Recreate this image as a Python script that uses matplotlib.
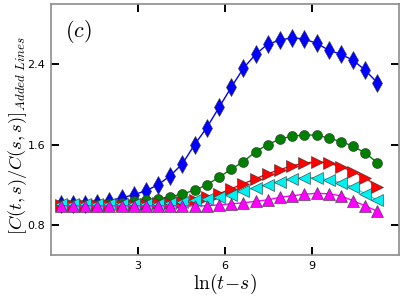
import matplotlib
matplotlib.use("Agg")
import matplotlib.pyplot as plt

plt.rcParams['mathtext.fontset'] = 'cm'

x = [0.33, 0.75, 1.17, 1.59, 2.01, 2.43, 2.85, 3.27, 3.69, 4.11, 4.53, 4.95, 5.37,
     5.79, 6.21, 6.63, 7.05, 7.47, 7.89, 8.31, 8.73, 9.15, 9.57, 9.99, 10.41, 10.83, 11.25]

blue = [1.01, 1.01, 1.01, 1.02, 1.04, 1.07, 1.10, 1.14, 1.20, 1.29, 1.41, 1.60, 1.77,
        1.97, 2.17, 2.36, 2.50, 2.60, 2.64, 2.665, 2.65, 2.61, 2.54, 2.50, 2.44, 2.34, 2.215]
green = [1.0, 1.0, 1.0, 1.0, 1.01, 1.02, 1.04, 1.05, 1.06, 1.08, 1.11, 1.145, 1.20,
         1.275, 1.355, 1.43, 1.53, 1.60, 1.655, 1.685, 1.695, 1.695, 1.665, 1.63, 1.585, 1.515, 1.42]
red = [1.0, 1.0, 1.0, 1.0, 1.0, 1.0, 1.0, 1.01, 1.015, 1.02, 1.03, 1.05, 1.075,
       1.11, 1.16, 1.21, 1.26, 1.31, 1.35, 1.39, 1.415, 1.43, 1.415, 1.38, 1.33, 1.27, 1.18]
cyan = [1.01, 1.01, 1.01, 1.01, 1.01, 1.01, 1.01, 1.01, 1.01, 1.02, 1.03, 1.045, 1.06,
        1.08, 1.10, 1.14, 1.17, 1.20, 1.23, 1.255, 1.27, 1.27, 1.25, 1.22, 1.175, 1.11, 1.045]
magenta = [0.99, 0.99, 0.99, 0.99, 0.99, 0.99, 0.99, 0.99, 0.99, 0.99, 0.99, 0.99, 0.99,
           1.0, 1.01, 1.02, 1.035, 1.05, 1.075, 1.09, 1.105, 1.115, 1.11, 1.09, 1.04, 0.99, 0.935]

xticks = [3, 6, 9]
yticks = [0.8, 1.6, 2.4]

fig = plt.figure(figsize=(4.03, 2.99), dpi=100)
ax = fig.add_axes([0.1266, 0.147, 0.864, 0.8396])

series = [
    (blue, 'd', '#0000ff', 9.2),
    (green, 'o', '#008000', 7.2),
    (red, '>', '#ff0000', 8.3),
    (cyan, '<', '#00f0f0', 8.3),
    (magenta, '^', '#ff00ff', 8.3),
]
for ys, mk, col, ms in series:
    ax.plot(x, ys, '-', color=col, lw=1.0, marker=mk, ms=ms,
            markerfacecolor=col, markeredgecolor='#333333', markeredgewidth=0.4)

ax.set_xlim(0, 12)
ax.set_ylim(0.5, 3.0)
ax.set_xticks(xticks)
ax.set_yticks(yticks)
ax.set_xticklabels([str(v) for v in xticks])
ax.set_yticklabels([f"{v:.1f}" for v in yticks])
ax.tick_params(direction='in', length=6, width=1.4, labelsize=8, pad=4,
               top=True, right=True)
for sp in ax.spines.values():
    sp.set_color('#8c8c8c')
    sp.set_linewidth(1.2)

ax.set_xlabel(r'$\ln(t\!-\!s)$', fontsize=14, labelpad=1)
ax.set_ylabel(r'$[C(t,s)/C(s,s)]_{Added\ Lines}$', fontsize=13.3)
ax.yaxis.set_label_coords(-0.064, 0.475)
ax.text(0.04, 0.945, r'$(c)$', transform=ax.transAxes, fontsize=16, va='top', ha='left')

fig.savefig('out.png', dpi=100)
